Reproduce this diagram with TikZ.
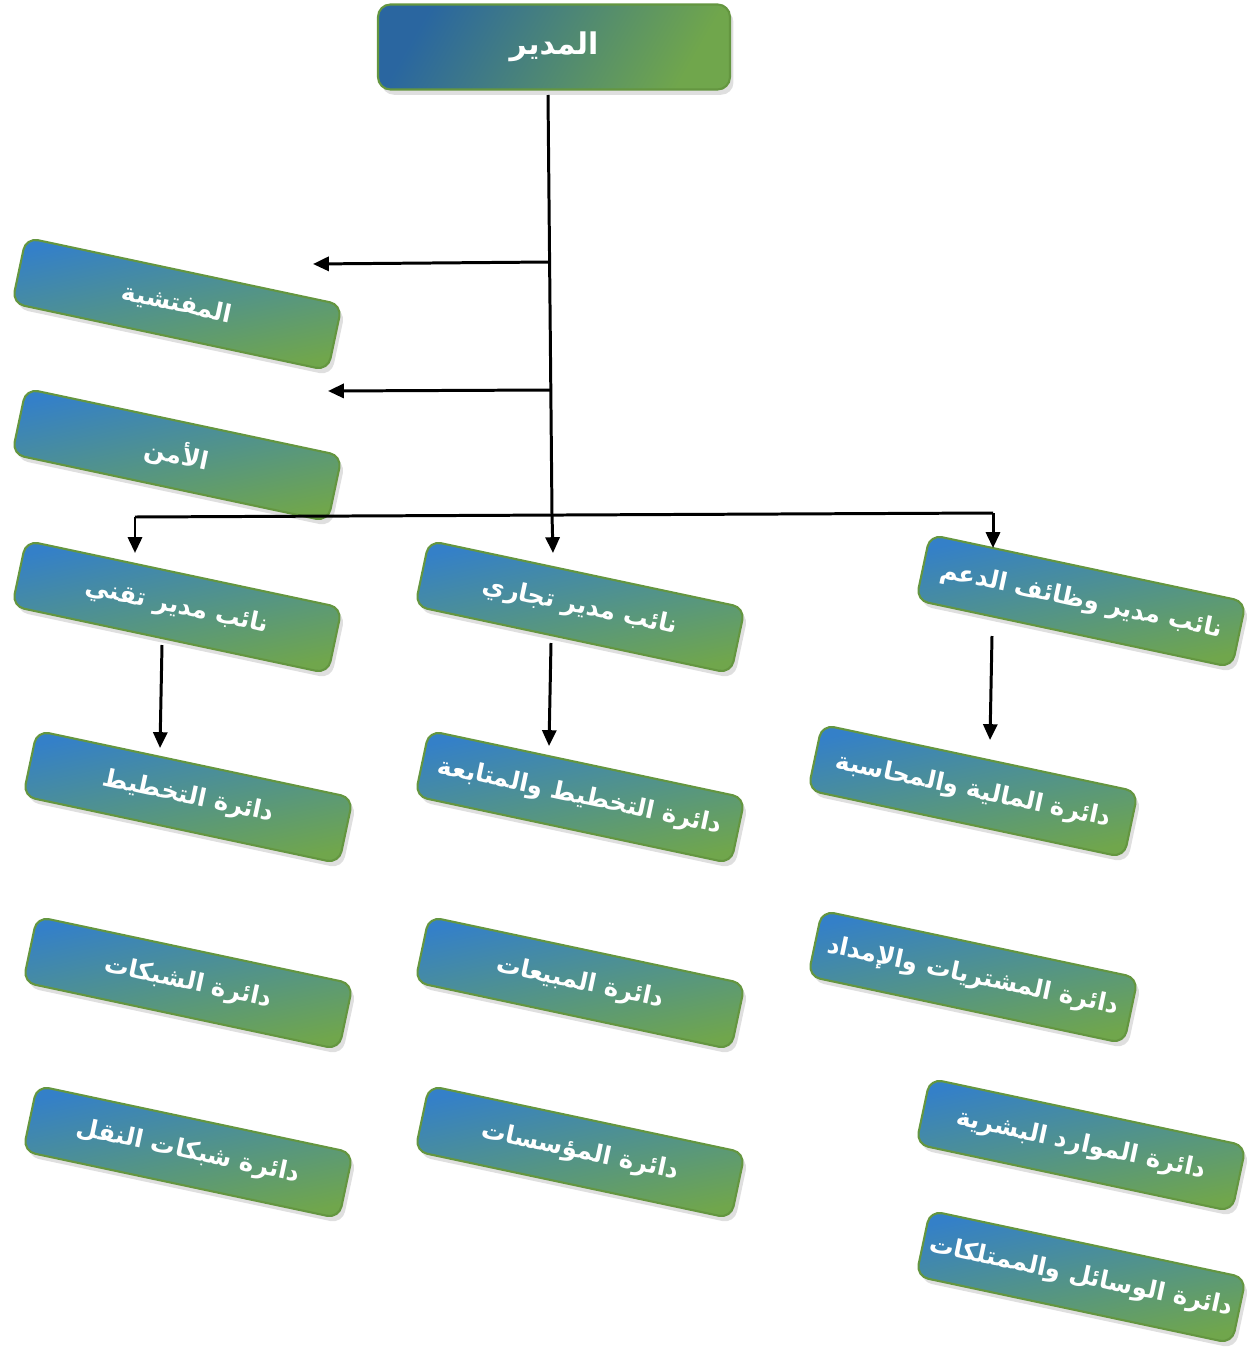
\documentclass[tikz,border=0pt]{standalone}
\usepackage{fontspec}
\usepackage{tikz}
\usetikzlibrary{arrows.meta, shadows, calc}
\TeXXeTstate=1
\newfontfamily\arabicfont[Script=Arabic]{DejaVu Sans}
\definecolor{boxblue}{RGB}{52,128,200}
\definecolor{boxgreen}{RGB}{112,166,76}
\definecolor{boxedge}{RGB}{100,150,64}
\newcommand{\ar}[1]{\arabicfont\bfseries\beginR #1\endR}
\tikzstyle{arrow} = [line width=1.7pt,->,>={Triangle[length=9pt,width=8pt]}]
\tikzstyle{card} = [draw=boxedge, line width=1.2pt, rounded corners=7pt,
  inner sep=2pt, text=white,
  drop shadow={shadow xshift=2pt, shadow yshift=-3pt, opacity=0.25}]
\tikzstyle{dept} = [card, rotate=-12, minimum width=6.46cm, minimum height=1.34cm,
  top color=boxblue, bottom color=boxgreen, shading angle=12,
  font=\fontsize{14}{17}\selectfont]
\tikzstyle{head} = [card, minimum width=7.04cm, minimum height=1.7cm,
  top color=boxblue!80!black, bottom color=boxgreen, shading angle=60,
  font=\fontsize{17}{20}\selectfont]

\begin{document}
\begin{tikzpicture}[x=0.02cm, y=-0.02cm]
\useasboundingbox (0,0) rectangle (1257,1348);

% head
\node[head] (mudir) at (554,47) {\ar{المدير}};

% left column
\node[dept] (taftish) at (177,304) {\ar{المفتشية}};
\node[dept] (amn) at (177,455) {\ar{الأمن}};

% deputies
\node[dept] (tiqni) at (177,607) {\ar{نائب مدير تقني}};
\node[dept] (tijari) at (580,607) {\ar{نائب مدير تجاري}};
\node[dept] (daam) at (1081,601) {\ar{نائب مدير وظائف الدعم}};

% technical
\node[dept] (takhtit) at (188,797) {\ar{دائرة التخطيط}};
\node[dept] (shabakat) at (188,983) {\ar{دائرة الشبكات}};
\node[dept] (naql) at (188,1152) {\ar{دائرة شبكات النقل}};

% commercial
\node[dept] (mutabaa) at (580,797) {\ar{دائرة التخطيط والمتابعة}};
\node[dept] (mabiat) at (580,983) {\ar{دائرة المبيعات}};
\node[dept] (muassasat) at (580,1152) {\ar{دائرة المؤسسات}};

% support
\node[dept] (maliya) at (973,791) {\ar{دائرة المالية والمحاسبة}};
\node[dept] (mushtarayat) at (973,977) {\ar{دائرة المشتريات والإمداد}};
\node[dept] (mawarid) at (1081,1145) {\ar{دائرة الموارد البشرية}};
\node[dept] (wasail) at (1081,1277) {\ar{دائرة الوسائل والممتلكات}};

% connectors
\coordinate (t0) at (548,95);
\coordinate (t1) at (550,262);
\coordinate (t2) at (551,390);
\coordinate (t3) at (552,515);
\coordinate (tip1) at (313,264);
\coordinate (tip2) at (328,391);
\coordinate (bl) at (135,517);
\coordinate (br) at (993,513);
\coordinate (tipc) at (553,553);
\coordinate (tipl) at (135,553);
\coordinate (tipr) at (993,548);

\draw[line width=1.7pt] (t0) -- (t3);
\draw[arrow] (t3) -- (tipc);
\draw[arrow] (t1) -- (tip1);
\draw[arrow] (t2) -- (tip2);
\draw[line width=1.7pt] (bl) -- (br);
\draw[arrow] (bl) -- (tipl);
\draw[arrow] (br) -- (tipr);

\coordinate (s1) at (162,645);
\coordinate (e1) at (160,748);
\coordinate (s2) at (551,643);
\coordinate (e2) at (549,746);
\coordinate (s3) at (992,636);
\coordinate (e3) at (990,740);
\draw[arrow] (s1) -- (e1);
\draw[arrow] (s2) -- (e2);
\draw[arrow] (s3) -- (e3);
\end{tikzpicture}
\end{document}
